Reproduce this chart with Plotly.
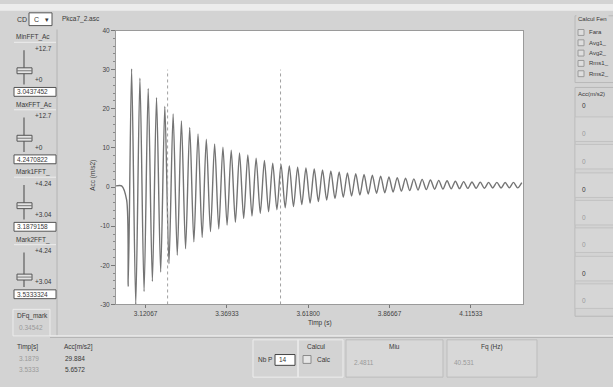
import plotly.graph_objects as go

W, H = 613, 387

# ---------------- data ----------------
pre_times = [3.0301, 3.0473, 3.0626]
pre_values = [0.3, 0.3, -3.3]

min_times = [3.0675, 3.09054, 3.11593, 3.14132, 3.16670, 3.19209, 3.21748, 3.24286,
             3.26825, 3.29364, 3.31903, 3.34441, 3.36980, 3.39519, 3.42057, 3.44596,
             3.47135, 3.49673, 3.52212, 3.54751, 3.57290, 3.59828, 3.62367, 3.64906,
             3.67444, 3.69983, 3.72522, 3.75060, 3.77599, 3.80138, 3.82677, 3.85215,
             3.87754, 3.90293, 3.92831, 3.95370, 3.97909, 4.00447, 4.02986, 4.05525,
             4.08064, 4.10602, 4.13141, 4.15680, 4.18218, 4.20757, 4.23296, 4.25834]
min_values = [-25.4, -30.0, -26.7, -24.1, -21.7, -19.6, -17.4, -15.75,
              -14.0, -12.9, -11.4, -10.7, -9.7, -9.0, -8.0, -7.4,
              -6.7, -6.3, -5.8, -5.3, -5.0, -4.5, -4.1, -3.7,
              -3.3, -2.95, -2.6, -2.3, -2.05, -1.8, -1.6, -1.45,
              -1.25, -1.05, -0.9, -0.75, -0.65, -0.55, -0.5, -0.45,
              -0.4, -0.35, -0.3, -0.3, -0.25, -0.25, -0.2, -0.2]

peak_times = [3.07785, 3.10324, 3.12862, 3.15401, 3.17940, 3.20479, 3.23017, 3.25556,
              3.28095, 3.30633, 3.33172, 3.35711, 3.38249, 3.40788, 3.43327, 3.45866,
              3.48404, 3.50943, 3.53482, 3.56020, 3.58559, 3.61098, 3.63636, 3.66175,
              3.68714, 3.71253, 3.73791, 3.76330, 3.78869, 3.81407, 3.83946, 3.86485,
              3.89023, 3.91562, 3.94101, 3.96640, 3.99178, 4.01717, 4.04256, 4.06794,
              4.09333, 4.11872, 4.14410, 4.16949, 4.19488, 4.22027, 4.24565, 4.27104]
peak_values = [30.2, 27.8, 25.2, 22.8, 20.6, 18.7, 16.9, 15.2,
               13.6, 12.2, 11.0, 10.2, 9.4, 8.7, 8.2, 7.4,
               6.8, 6.1, 5.75, 5.4, 5.1, 4.85, 4.6, 4.35,
               4.1, 3.85, 3.6, 3.4, 3.2, 3.0, 2.8, 2.6,
               2.4, 2.25, 2.1, 1.95, 1.8, 1.7, 1.6, 1.5,
               1.4, 1.3, 1.25, 1.2, 1.2, 1.15, 1.2, 1.15]

cursor_times = [3.1879, 3.5333]
cursor_span = [-30, 30]

x_range = [3.0301, 4.2748]
y_range = [-30, 40]
x_tickvals = [3.12067, 3.36933, 3.61800, 3.86667, 4.11533]
x_ticktext = ["3.12067", "3.36933", "3.61800", "3.86667", "4.11533"]
y_tickvals = [-30, -20, -10, 0, 10, 20, 30, 40]
y_ticktext = ["-30", "-20", "-10", "0", "10", "20", "30", "40"]

slider_headers = ["MinFFT_Ac", "MaxFFT_Ac", "Mark1FFT_", "Mark2FFT_"]
slider_top = ["+12.7", "+12.7", "+4.24", "+4.24"]
slider_bottom = ["+0", "+0", "+3.04", "+3.04"]
slider_values = ["3.0437452", "4.2470822", "3.1879158", "3.5333324"]

dfq_value = "0.34542"
cursor_rows_time = ["3.1879", "3.5333"]
cursor_rows_acc = ["29.884", "5.6572"]
nb_periods = "14"
miu_value = "2.4811"
fq_value = "40.531"
fen_options = ["Fara", "Avg1_", "Avg2_", "Rms1_", "Rms2_"]
right_values = ["0", "0", "0", "0", "0", "0", "0", "0"]
right_dark = [True, False, False, True, False, False, True, False]

# ---------------- build signal ----------------
sig_x = list(pre_times)
sig_y = list(pre_values)
for tm, vm, tp, vp in zip(min_times, min_values, peak_times, peak_values):
    sig_x += [tm, tp]
    sig_y += [vm, vp]

FONT = "Liberation Sans"
DARK = "#383838"
GRAY = "#9a9a9a"
BG = "#d3d3d3"


def X(px):
    return px / W


def Y(py):
    return 1 - py / H


shapes = []
annotations = []


def rect(x0, y0, x1, y1, fill="rgba(0,0,0,0)", line="#a8a8a8", lw=1):
    shapes.append(dict(type="rect", xref="paper", yref="paper",
                       x0=X(x0), x1=X(x1), y0=Y(y1), y1=Y(y0),
                       fillcolor=fill, line=dict(color=line, width=lw), layer="above"))


def hline(x0, x1, y, color="#a8a8a8", lw=1):
    shapes.append(dict(type="line", xref="paper", yref="paper",
                       x0=X(x0), x1=X(x1), y0=Y(y), y1=Y(y),
                       line=dict(color=color, width=lw), layer="above"))


def vline(x, y0, y1, color="#a8a8a8", lw=1):
    shapes.append(dict(type="line", xref="paper", yref="paper",
                       x0=X(x), x1=X(x), y0=Y(y0), y1=Y(y1),
                       line=dict(color=color, width=lw), layer="above"))


def text(s, px, py, size=7, color=DARK, anchor="left", angle=0, bg=None):
    a = dict(text=s, x=X(px), y=Y(py), xref="paper", yref="paper",
             xanchor=anchor, yanchor="middle", showarrow=False,
             textangle=angle, font=dict(family=FONT, size=size, color=color))
    if bg:
        a["bgcolor"] = bg
    annotations.append(a)


# top light band
rect(0, 0, W, 7, fill="#ececec", line="#ececec", lw=0)

# ---- top-left combobox and file title ----
text("CD", 15, 15.5, size=7)
rect(29, 9, 52, 22, fill="#ffffff", line="#555555")
text("C", 32, 15.5, size=7)
text("▾", 47, 15.5, size=7, anchor="center")
text("Pkca7_2.asc", 60, 15.5, size=6.5)

# left panel border
vline(57, 26, 338, color="#b4b4b4")

# ---- slider sections ----
handle_off = [34, 34, 34, 38]
for i in range(4):
    h = 34 + 68.7 * i
    text(slider_headers[i], 14, h, size=6.5)
    hline(14, 56, h + 5, color="#ededed")
    text(slider_top[i], 33, h + 11, size=6.5)
    vline(24, h + 13, h + 48, color="#666666", lw=1.3)
    rect(17, h + handle_off[i] - 3, 32, h + handle_off[i] + 3, fill="#e4e4e4", line="#555555")
    hline(17, 32, h + handle_off[i], color="#777777")
    text(slider_bottom[i], 33, h + 43, size=6.5)
    rect(14, h + 51, 56, h + 60, fill="#ffffff", line="#555555")
    text(slider_values[i], 15, h + 55.5, size=6.5)

# DFq box
rect(13, 311, 50, 338, fill="rgba(0,0,0,0)", line="#ececec")
text("DFq_mark", 15, 318, size=6.5)
text(dfq_value, 17, 329, size=6.5, color=GRAY)

# separator between chart and bottom panel
hline(50, W, 338, color="#ededed", lw=1.5)
hline(50, W, 339.5, color="#b0b0b0", lw=1)

# bottom-left cursor readouts
text("Timp[s]", 15, 349, size=6.5)
text("Acc[m/s2]", 62, 349, size=6.5)
for r, (ts, av) in enumerate(zip(cursor_rows_time, cursor_rows_acc)):
    yy = 361 + 11 * r
    text(ts, 17, yy, size=6.5, color=GRAY)
    text(av, 63, yy, size=6.5)

# bottom controls
rect(253, 342, 298, 380, line="#ededed")
text("Nb P", 256, 362.5, size=6.5)
rect(275, 357, 295, 368, fill="#ffffff", line="#444444")
text(nb_periods, 277, 362.5, size=6.5)

rect(298, 342, 343, 380, line="#ededed")
text("Calcul", 305, 349, size=6.5)
rect(303, 358, 311, 366, fill="#e6e6e6", line="#8a8a8a")
text("Calc", 315, 362.5, size=6.5)

rect(346, 342, 443, 380, fill="#d8d8d8", line="#bdbdbd")
text("Miu", 394, 349, size=6.5, anchor="center")
text(miu_value, 352, 365, size=6.5, color=GRAY)

rect(447, 342, 537, 380, fill="#d8d8d8", line="#bdbdbd")
text("Fq (Hz)", 492, 349, size=6.5, anchor="center")
text(fq_value, 452, 365, size=6.5, color=GRAY)

# right panel: Calcul Fen
rect(575, 12, 618, 80, line="#b8b8b8")
text("Calcul Fen", 576, 15, size=6, bg=BG)
for k, opt in enumerate(fen_options):
    yy = 29 + 10.5 * k
    rect(578, yy - 3, 584, yy + 3, fill="#dedede", line="#9a9a9a")
    text(opt, 587, yy, size=6)

# right panel: values
rect(575, 85, 618, 318, line="#b8b8b8")
text("Acc(m/s2)", 576, 92, size=6)
box_tops = [115, 143, 172, 200, 228, 257, 285]
for k, v in enumerate(right_values):
    col = DARK if right_dark[k] else GRAY
    if k == 0:
        text(v, 580, 103, size=6.5, color=col)
    else:
        t0 = box_tops[k - 1]
        rect(575, t0, 618, t0 + 25, fill="#d6d6d6", line="#c2c2c2")
        text(v, 580, t0 + 17, size=6.5, color=col)

# y axis title
text("Acc (m/s2)", 93, 175, size=6.5, anchor="center", angle=-90)
# x axis title
text("Timp (s)", 320, 325, size=6.5, anchor="center")

fig = go.Figure()
fig.add_trace(go.Scatter(x=sig_x, y=sig_y, mode="lines",
                         line=dict(color="#747474", width=1.4, shape="spline", smoothing=0.8),
                         hoverinfo="skip", showlegend=False))
for ct in cursor_times:
    fig.add_trace(go.Scatter(x=[ct, ct], y=cursor_span, mode="lines",
                             line=dict(color="#a0a0a0", width=1, dash="dot"),
                             hoverinfo="skip", showlegend=False))

fig.update_layout(
    width=W, height=H, autosize=False,
    margin=dict(l=0, r=0, t=0, b=0),
    paper_bgcolor=BG, plot_bgcolor="#ffffff",
    font=dict(family=FONT, size=7, color=DARK),
    shapes=shapes, annotations=annotations,
    xaxis=dict(domain=[116 / W, 523 / W], range=x_range, showgrid=False, zeroline=False,
               tickmode="array", tickvals=x_tickvals, ticktext=x_ticktext,
               ticks="outside", ticklen=3, tickcolor="#777777",
               tickfont=dict(family=FONT, size=6.5, color="#444444"),
               showline=True, linecolor="#9a9a9a", mirror=True),
    yaxis=dict(domain=[1 - 306 / H, 1 - 27 / H], range=y_range, showgrid=False, zeroline=False,
               tickmode="array", tickvals=y_tickvals, ticktext=y_ticktext,
               ticks="outside", ticklen=4, tickcolor="#777777",
               minor=dict(tickmode="linear", dtick=2, ticks="outside", ticklen=2, tickcolor="#888888"),
               tickfont=dict(family=FONT, size=6.5, color="#444444"),
               showline=True, linecolor="#9a9a9a", mirror=True),
)

fig.write_html("out.html", config={"displayModeBar": False},
               post_script="document.body.style.margin='0';document.body.style.overflow='hidden';")
